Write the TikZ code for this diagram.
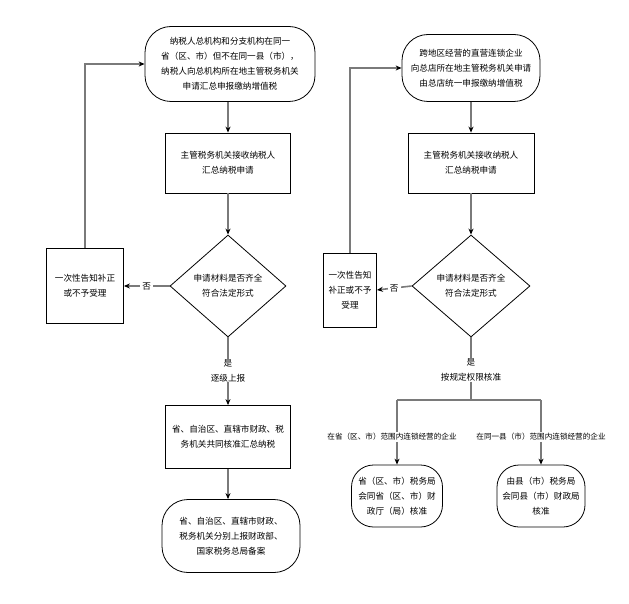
\documentclass[tikz,border=0pt]{standalone}
\usepackage{fontspec}
\newfontfamily\cjk{Noto Sans CJK SC}
\usetikzlibrary{shapes.geometric,arrows.meta}
\begin{document}
\begin{tikzpicture}[x=1pt,y=-1pt,
  every node/.style={font=\cjk\fontsize{8.6}{15}\selectfont, align=center, inner sep=0pt},
  term/.style={draw=black, line width=0.8pt, rounded corners=26pt, minimum width=#1},
  boxx/.style={draw=black, line width=0.8pt},
  dia/.style={draw=black, line width=0.8pt, diamond, minimum width=116pt, minimum height=102pt},
  conn/.style={draw=black!52, line width=1.6pt},
  arr/.style={conn, -{Stealth[length=6pt,width=5pt,black]}},
  small/.style={font=\cjk\fontsize{7.6}{12}\selectfont, fill=white, inner sep=1pt}
]
\useasboundingbox (0,0) rectangle (629,604);
\fill[white] (0,0) rectangle (629,604);

% ---------- left column ----------
\node[term=170pt, minimum height=75pt] (lt) at (230,64)
  {纳税人总机构和分支机构在同一\\省（区、市）但不在同一县（市），\\纳税人向总机构所在地主管税务机关\\申请汇总申报缴纳增值税};
\node[boxx, minimum width=125pt, minimum height=60pt] (lb2) at (228,163)
  {主管税务机关接收纳税人\\汇总纳税申请};
\node[dia] (ld) at (228,286) {申请材料是否齐全\\符合法定形式};
\node[boxx, minimum width=77pt, minimum height=75pt] (ln) at (85,286)
  {一次性告知补正\\或不予受理};
\node (lyes) at (228,371) {是\\逐级上报};
\node[boxx, minimum width=125pt, minimum height=63pt] (lb3) at (228,437)
  {省、自治区、直辖市财政、税\\务机关共同核准汇总纳税};
\node[term=138pt, minimum height=73pt] (lend) at (231,536)
  {省、自治区、直辖市财政、\\税务机关分别上报财政部、\\国家税务总局备案};

\draw[arr] (lb2 |- lt.south) -- (lb2);
\draw[arr] (lb2) -- (ld);
\draw[arr] (ld.west) -- node[fill=white, inner sep=2pt] (lno) {否} (ln.east);
\draw[arr] (ln.north) |- (lt.west);
\draw[conn] (ld.south) -- (lyes.north);
\draw[arr] (lyes.south) -- (lb3.north);
\draw[arr] (lb3.south) -- (lb3.south |- lend.north);

% ---------- right column ----------
\node[term=138pt, minimum height=67pt] (rt) at (471,68)
  {跨地区经营的直营连锁企业\\向总店所在地主管税务机关申请\\由总店统一申报缴纳增值税};
\node[boxx, minimum width=126pt, minimum height=60pt] (rb2) at (471,163)
  {主管税务机关接收纳税人\\汇总纳税申请};
\node[dia, minimum width=118pt] (rd) at (471,286) {申请材料是否齐全\\符合法定形式};
\node[boxx, minimum width=53pt, minimum height=74pt] (rn) at (350,290)
  {一次性告知\\补正或不予\\受理};
\node (ryes) at (471,370) {是\\按规定权限核准};
\coordinate (rsplit) at (471,400);
\coordinate (rbl) at (397,400);
\coordinate (rbr) at (541,400);
\node[small] (rll) at (392,437) {在省（区、市）范围内连锁经营的企业};
\node[small] (rrl) at (541,437) {在同一县（市）范围内连锁经营的企业};
\node[term=91pt, minimum height=62pt, rounded corners=22pt] (rend1) at (397,496)
  {省（区、市）税务局\\会同省（区、市）财\\政厅（局）核准};
\node[term=88pt, minimum height=62pt, rounded corners=22pt] (rend2) at (541,496)
  {由县（市）税务局\\会同县（市）财政局\\核准};

\draw[arr] (rt) -- (rb2);
\draw[arr] (rb2) -- (rd);
\draw[arr] (rd.west) -- node[fill=white, inner sep=2pt] (rno) {否} (rn.east);
\draw[arr] (rn.north) |- (rt.west);
\draw[conn] (rd.south) -- (ryes.north);
\draw[conn] (ryes.south) -- (rsplit);
\draw[conn] (rbl) -- (rbr);
\draw[conn] (rbl) -- (rbl |- rll.north);
\draw[conn] (rbr) -- (rbr |- rrl.north);
\draw[arr] (rbl |- rll.south) -- (rend1.north);
\draw[arr] (rbr |- rrl.south) -- (rend2.north);
\end{tikzpicture}
\end{document}
